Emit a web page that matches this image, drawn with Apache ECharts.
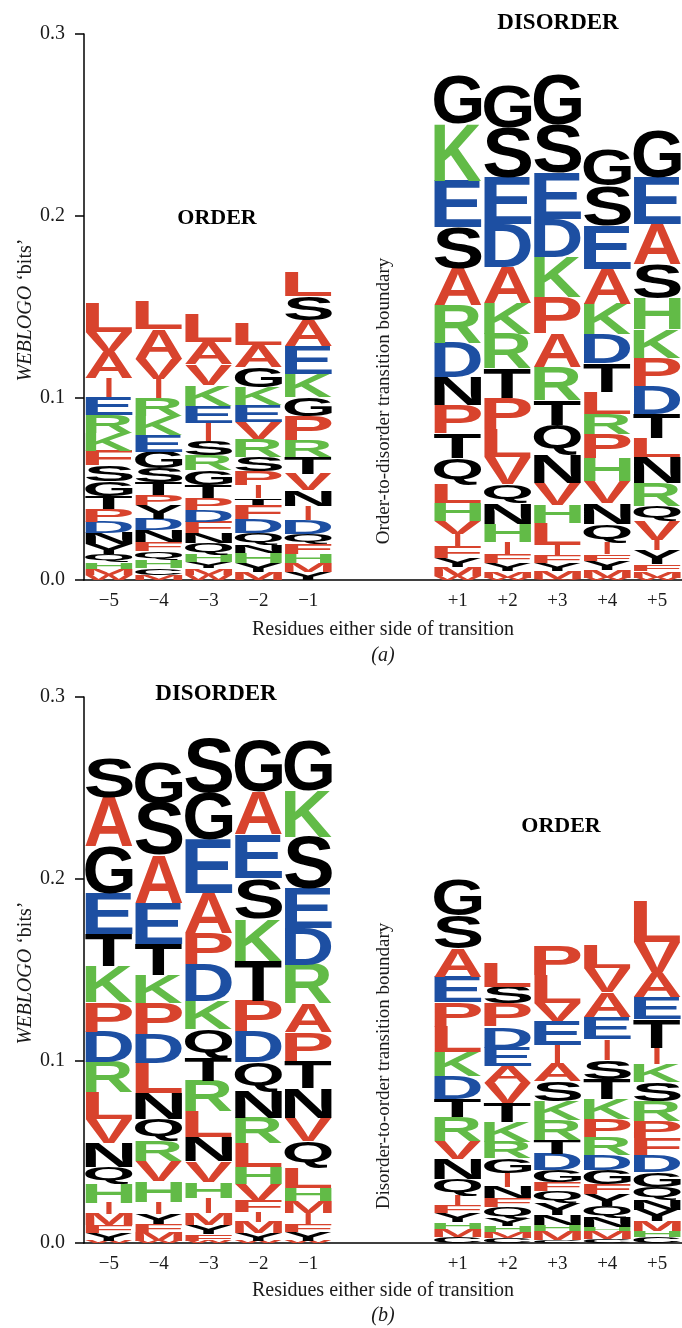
<!DOCTYPE html>
<html>
<head>
<meta charset="utf-8">
<script src="https://cdn.jsdelivr.net/npm/echarts@6/dist/echarts.min.js"></script>
<style>
html,body{margin:0;padding:0;background:#fff;}
#chart{width:682px;height:1328px;}
</style>
</head>
<body>
<div id="chart"></div>
<script>
// ---------- tick labels ----------
const xTickLabels = ['\u22125','\u22124','\u22123','\u22122','\u22121','','','+1','+2','+3','+4','+5'];
const positionSlots = [0,1,2,3,4,7,8,9,10,11];
const yTicks = [0, 0.1, 0.2, 0.3];

// ---------- panel (a): order-to-disorder (letters top -> bottom, heights in bits) ----------
const aLetters = [
  'LVAIERKFSGTPDNYQHMW',
  'LAVIRKEGSTPYDNFQHCM',
  'LAVKEISRGTPDFNQHYMW',
  'LAGKEVRSPITFDQNHYM',
  'LSAEKGPRTVNIDQFHMY',
  'GKESARDNPTQLHVIFYMW',
  'GSEDAKRTPLVQNHIFYMW',
  'GSEDKPARTQNVHLIFYMW',
  'GSEAKDTLRPHVNQIFYMW',
  'GEASHKPDTLNRQVIYFMW'
];
const aBitsM5 = [0.0159,0.0110,0.0143,0.0104,0.0099,0.0099,0.0099,0.0082,0.0088,0.0082,0.0071,0.0071,0.0060,0.0060,0.0055,0.0044,0.0038,0.0033,0.0027];
const aBitsM4 = [0.0154,0.0165,0.0110,0.0104,0.0099,0.0104,0.0093,0.0093,0.0077,0.0071,0.0055,0.0077,0.0060,0.0066,0.0049,0.0049,0.0044,0.0038,0.0027];
const aBitsM3 = [0.0154,0.0121,0.0115,0.0115,0.0093,0.0099,0.0082,0.0082,0.0082,0.0071,0.0066,0.0066,0.0060,0.0055,0.0060,0.0044,0.0033,0.0038,0.0027];
const aBitsM2 = [0.0121,0.0121,0.0110,0.0099,0.0093,0.0093,0.0099,0.0077,0.0077,0.0071,0.0038,0.0077,0.0077,0.0066,0.0044,0.0055,0.0049,0.0044];
const aBitsM1 = [0.0132,0.0132,0.0143,0.0154,0.0126,0.0104,0.0132,0.0093,0.0093,0.0088,0.0088,0.0077,0.0077,0.0055,0.0055,0.0049,0.0049,0.0044];
const aBitsP1 = [0.0264,0.0313,0.0258,0.0225,0.0203,0.0209,0.0187,0.0154,0.0154,0.0137,0.0143,0.0104,0.0099,0.0071,0.0071,0.0060,0.0049,0.0049,0.0022];
const aBitsP2 = [0.0231,0.0275,0.0258,0.0236,0.0198,0.0170,0.0187,0.0165,0.0170,0.0154,0.0148,0.0104,0.0115,0.0099,0.0066,0.0049,0.0044,0.0038,0.0011];
const aBitsP3 = [0.0275,0.0264,0.0253,0.0209,0.0220,0.0198,0.0187,0.0181,0.0137,0.0165,0.0154,0.0121,0.0099,0.0121,0.0055,0.0044,0.0044,0.0044,0.0005];
const aBitsP4 = [0.0192,0.0220,0.0236,0.0192,0.0170,0.0159,0.0159,0.0121,0.0110,0.0132,0.0126,0.0121,0.0115,0.0104,0.0060,0.0038,0.0049,0.0044,0.0011];
const aBitsP5 = [0.0258,0.0258,0.0220,0.0187,0.0170,0.0159,0.0154,0.0154,0.0132,0.0104,0.0143,0.0126,0.0082,0.0104,0.0055,0.0077,0.0038,0.0038,0.0011];

// ---------- panel (b): disorder-to-order ----------
const bLetters = [
  'SAGETKPDRLVNQHIMFYW',
  'GSAETKPDLNQRVHIYFMW',
  'SGEAPDKQTRLNVHIMYFW',
  'GAESKTPDQNRLHVFIMYW',
  'GKSEDRAPTNVQLHMIFYW',
  'GSAEPLKDTRVNQIFYHMC',
  'LSPDEAVTKRGINFQYHMC',
  'PLVEIASKRTDGFQYNHMC',
  'LVAEISTKPRDGFYQNHMC',
  'LVAETIKSRPFDGQNYMHC'
];
const bBitsM5 = [0.0220,0.0269,0.0258,0.0225,0.0176,0.0198,0.0165,0.0165,0.0165,0.0148,0.0132,0.0132,0.0093,0.0104,0.0060,0.0060,0.0044,0.0044,0.0011];
const bBitsM4 = [0.0225,0.0286,0.0264,0.0225,0.0170,0.0154,0.0170,0.0159,0.0165,0.0143,0.0121,0.0110,0.0110,0.0115,0.0066,0.0055,0.0044,0.0049,0.0011];
const bBitsM3 = [0.0302,0.0258,0.0297,0.0220,0.0170,0.0203,0.0154,0.0159,0.0126,0.0165,0.0143,0.0132,0.0115,0.0088,0.0082,0.0066,0.0049,0.0038,0.0011];
const bBitsM2 = [0.0280,0.0236,0.0242,0.0220,0.0231,0.0220,0.0170,0.0170,0.0159,0.0148,0.0137,0.0132,0.0093,0.0093,0.0060,0.0055,0.0060,0.0044,0.0011];
const bBitsM1 = [0.0275,0.0253,0.0286,0.0214,0.0203,0.0214,0.0159,0.0159,0.0148,0.0165,0.0126,0.0143,0.0115,0.0071,0.0066,0.0060,0.0044,0.0049,0.0011];
const bBitsP1 = [0.0192,0.0181,0.0159,0.0137,0.0137,0.0137,0.0132,0.0126,0.0099,0.0132,0.0099,0.0110,0.0088,0.0055,0.0044,0.0049,0.0038,0.0044,0.0033];
const bBitsP2 = [0.0132,0.0093,0.0126,0.0115,0.0104,0.0093,0.0110,0.0104,0.0110,0.0088,0.0082,0.0077,0.0060,0.0049,0.0060,0.0044,0.0033,0.0033,0.0027];
const bBitsP3 = [0.0165,0.0154,0.0099,0.0132,0.0099,0.0099,0.0110,0.0104,0.0110,0.0077,0.0088,0.0066,0.0049,0.0066,0.0066,0.0055,0.0033,0.0049,0.0016];
const bBitsP4 = [0.0126,0.0132,0.0137,0.0121,0.0115,0.0104,0.0110,0.0110,0.0099,0.0099,0.0082,0.0077,0.0055,0.0066,0.0060,0.0055,0.0022,0.0044,0.0022];
const bBitsP5 = [0.0225,0.0170,0.0132,0.0121,0.0159,0.0093,0.0099,0.0104,0.0110,0.0093,0.0093,0.0093,0.0082,0.0071,0.0055,0.0060,0.0055,0.0033,0.0033];

const aBits = [aBitsM5,aBitsM4,aBitsM3,aBitsM2,aBitsM1,aBitsP1,aBitsP2,aBitsP3,aBitsP4,aBitsP5];
const bBits = [bBitsM5,bBitsM4,bBitsM3,bBitsM2,bBitsM1,bBitsP1,bBitsP2,bBitsP3,bBitsP4,bBitsP5];

// ---------- styling ----------
const RED = '#d8432d', GREEN = '#62bb47', BLUE = '#1d4fa2', BLACK = '#000000';
function colorOf(ch) {
  if ('AVLIPFMW'.indexOf(ch) >= 0) return RED;
  if ('KRH'.indexOf(ch) >= 0) return GREEN;
  if ('DE'.indexOf(ch) >= 0) return BLUE;
  return BLACK;
}
const LOGO_FONT = 'bold 100px "Liberation Sans", Arial, sans-serif';
const SERIF = '"Liberation Serif", "Times New Roman", serif';
const TXT = '#1a1a1a';

const mctx = document.createElement('canvas').getContext('2d');
mctx.font = LOGO_FONT;
mctx.textAlign = 'center';
mctx.textBaseline = 'middle';
const metricCache = {};
function metrics(ch) {
  if (!metricCache[ch]) {
    const m = mctx.measureText(ch);
    metricCache[ch] = {L: m.actualBoundingBoxLeft, R: m.actualBoundingBoxRight, A: m.actualBoundingBoxAscent, D: m.actualBoundingBoxDescent};
  }
  return metricCache[ch];
}

function makeRender(letters, bits) {
  return function (params, api) {
    const slot = api.value(0);
    const col = api.value(1);
    const ls = letters[col], hs = bits[col];
    const cx = api.coord([slot, 0])[0];
    const fullW = api.size([1, 0])[0] * 0.95;
    const children = [];
    let cum = 0;
    for (let i = ls.length - 1; i >= 0; i--) {
      const y0 = api.coord([slot, cum])[1];
      cum += hs[i];
      const y1 = api.coord([slot, cum])[1];
      const h = y0 - y1;
      const ch = ls[i];
      const w = ch === 'I' ? fullW * 0.12 : fullW;
      const m = metrics(ch);
      const sx = w / (m.L + m.R), sy = h / (m.A + m.D);
      children.push({
        type: 'text', silent: true,
        x: cx - w / 2 + sx * m.L, y: y1 + sy * m.A,
        scaleX: sx, scaleY: sy,
        style: {text: ch, font: LOGO_FONT, fill: colorOf(ch), align: 'center', verticalAlign: 'middle'}
      });
    }
    return {type: 'group', children};
  };
}

function seriesData() {
  return positionSlots.map((s, i) => [s, i]);
}

function xAxisFor(gi) {
  return {
    type: 'category', gridIndex: gi, data: xTickLabels,
    axisLine: {show: true, lineStyle: {color: '#000', width: 1.5}},
    axisTick: {show: false},
    axisLabel: {color: TXT, fontFamily: SERIF, fontSize: 19, margin: 12, interval: 0},
    splitLine: {show: false}
  };
}
function yAxisFor(gi) {
  return {
    type: 'value', gridIndex: gi, min: yTicks[0], max: yTicks[yTicks.length - 1], interval: 0.1,
    axisLine: {show: true, lineStyle: {color: '#000', width: 1.5}},
    axisTick: {show: true, length: 9, lineStyle: {color: '#000', width: 1.5}},
    axisLabel: {color: TXT, fontFamily: SERIF, fontSize: 20, margin: 19, formatter: v => v.toFixed(1)},
    splitLine: {show: false}
  };
}

function txt(text, x, y, size, opts) {
  return {
    type: 'text', x: x, y: y, silent: true,
    style: Object.assign({text: text, fill: TXT, fontFamily: SERIF, fontSize: size, align: 'center', verticalAlign: 'middle'}, opts || {})
  };
}
function vtxt(text, x, y, size, opts) {
  const t = txt(text, x, y, size, opts);
  t.rotation = Math.PI / 2;
  return t;
}
const yName = {text: '{i|WEBLOGO} \u2018bits\u2019', rich: {i: {fontStyle: 'italic', fontFamily: SERIF, fontSize: 20, fill: TXT}}};

const chart = echarts.init(document.getElementById('chart'), null, {renderer: 'canvas'});
chart.setOption({
  animation: false,
  backgroundColor: '#ffffff',
  grid: [
    {left: 84, right: 0, top: 34, height: 546, containLabel: false},
    {left: 84, right: 0, top: 697, height: 546, containLabel: false}
  ],
  xAxis: [xAxisFor(0), xAxisFor(1)],
  yAxis: [yAxisFor(0), yAxisFor(1)],
  series: [
    {type: 'custom', xAxisIndex: 0, yAxisIndex: 0, data: seriesData(), renderItem: makeRender(aLetters, aBits), clip: false, silent: true},
    {type: 'custom', xAxisIndex: 1, yAxisIndex: 1, data: seriesData(), renderItem: makeRender(bLetters, bBits), clip: false, silent: true}
  ],
  graphic: [
    vtxt('', 26, 310, 20, yName),
    vtxt('', 26, 973, 20, yName),
    txt('ORDER', 217, 218, 22, {fontWeight: 'bold', fill: '#000'}),
    txt('DISORDER', 558, 23, 23, {fontWeight: 'bold', fill: '#000'}),
    txt('DISORDER', 216, 694, 23, {fontWeight: 'bold', fill: '#000'}),
    txt('ORDER', 561, 826, 22, {fontWeight: 'bold', fill: '#000'}),
    vtxt('Order-to-disorder transition boundary', 384, 401, 19),
    vtxt('Disorder-to-order transition boundary', 384, 1066, 19),
    txt('Residues either side of transition', 383, 630, 20),
    txt('Residues either side of transition', 383, 1291, 20),
    txt('(a)', 383, 656, 20, {fontStyle: 'italic'}),
    txt('(b)', 383, 1316, 20, {fontStyle: 'italic'})
  ]
});
</script>
</body>
</html>
